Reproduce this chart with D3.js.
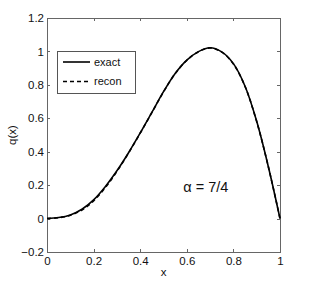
<!DOCTYPE html>
<html>
<head>
<meta charset="utf-8">
<script src="https://cdn.jsdelivr.net/npm/d3@7"></script>
<style>
  body { margin: 0; background: #fff; }
  svg { display: block; font-family: "Liberation Sans", Arial, sans-serif; }
</style>
</head>
<body>
<svg id="chart" width="314" height="286"></svg>
<script>
// values
const xs    = [0, 0.05, 0.1, 0.15, 0.2, 0.25, 0.3, 0.35, 0.4, 0.45, 0.5, 0.55, 0.6, 0.65, 0.7, 0.75, 0.8, 0.85, 0.9, 0.95, 1.0];
const exact = [0, 0.006, 0.022, 0.056, 0.112, 0.191, 0.286, 0.394, 0.512, 0.635, 0.759, 0.868, 0.948, 0.999, 1.022, 0.997, 0.927, 0.792, 0.582, 0.31, 0];
const recon = [0, 0.005, 0.02, 0.051, 0.106, 0.185, 0.282, 0.392, 0.511, 0.634, 0.758, 0.867, 0.947, 0.998, 1.021, 0.996, 0.925, 0.79, 0.58, 0.31, 0];
const xTicks = [0, 0.2, 0.4, 0.6, 0.8, 1];
const yTicks = [-0.2, 0, 0.2, 0.4, 0.6, 0.8, 1, 1.2];
const legendLabels = ["exact", "recon"];

const margin = { left: 47, top: 18, right: 34, bottom: 34 };
const width = 314 - margin.left - margin.right;
const height = 286 - margin.top - margin.bottom;

const svg = d3.select("#chart");
const g = svg.append("g").attr("transform", `translate(${margin.left},${margin.top})`);

const x = d3.scaleLinear().domain([0, 1]).range([0, width]);
const y = d3.scaleLinear().domain([-0.2, 1.2]).range([height, 0]);

const fmt = d => d === 0 ? "0" : d3.format("~g")(d);

// axes with inward ticks
function styleAxis(sel) {
  sel.selectAll("path").remove();
  sel.selectAll("line").attr("stroke", "#666").attr("shape-rendering", "crispEdges");
  sel.selectAll("text").attr("fill", "#111").style("font-size", "11.5px");
}

g.append("g").attr("transform", `translate(0,${height})`)
  .call(d3.axisBottom(x).tickValues(xTicks).tickFormat(fmt).tickSizeInner(-3).tickSizeOuter(0).tickPadding(5))
  .call(styleAxis);
g.append("g")
  .call(d3.axisTop(x).tickValues(xTicks).tickFormat("").tickSizeInner(-3).tickSizeOuter(0))
  .call(styleAxis);
g.append("g")
  .call(d3.axisLeft(y).tickValues(yTicks).tickFormat(fmt).tickSizeInner(-3).tickSizeOuter(0).tickPadding(3))
  .call(styleAxis);
g.append("g").attr("transform", `translate(${width},0)`)
  .call(d3.axisRight(y).tickValues(yTicks).tickFormat("").tickSizeInner(-3).tickSizeOuter(0))
  .call(styleAxis);

// box
g.append("rect")
  .attr("x", 0.5).attr("y", 0.5)
  .attr("width", width).attr("height", height)
  .attr("fill", "none").attr("stroke", "#666")
  .attr("shape-rendering", "crispEdges");

const line = d3.line().curve(d3.curveCatmullRom);

g.append("path")
  .attr("d", line(xs.map((v, i) => [x(v), y(exact[i])])))
  .attr("fill", "none").attr("stroke", "#000").attr("stroke-width", 1.6);

g.append("path")
  .attr("d", line(xs.map((v, i) => [x(v), y(recon[i])])))
  .attr("fill", "none").attr("stroke", "#000").attr("stroke-width", 1.6)
  .attr("stroke-dasharray", "4,3");

// axis labels
svg.append("text")
  .attr("x", margin.left + x(0.5)).attr("y", 276)
  .attr("text-anchor", "middle").style("font-size", "11.5px").attr("fill", "#111")
  .text("x");
svg.append("text")
  .attr("transform", `translate(16,${margin.top + y(0.5)}) rotate(-90)`)
  .attr("text-anchor", "middle").style("font-size", "11.5px").attr("fill", "#111")
  .text("q(x)");

// annotation
g.append("text")
  .attr("x", x(0.585)).attr("y", y(0.16))
  .style("font-size", "14.5px").attr("fill", "#111")
  .text("α = 7/4");

// legend
const leg = svg.append("g").attr("transform", "translate(57,51)");
leg.append("rect")
  .attr("x", 0.5).attr("y", 0.5).attr("width", 78).attr("height", 42)
  .attr("fill", "#fff").attr("stroke", "#555").attr("shape-rendering", "crispEdges");
legendLabels.forEach((lab, i) => {
  const ly = 11 + i * 19.5;
  leg.append("line")
    .attr("x1", 6).attr("x2", 33).attr("y1", ly).attr("y2", ly)
    .attr("stroke", "#000").attr("stroke-width", 1.6)
    .attr("stroke-dasharray", i === 1 ? "4,3" : null);
  leg.append("text")
    .attr("x", 37).attr("y", ly).attr("dy", "0.35em")
    .style("font-size", "11px").attr("fill", "#111")
    .text(lab);
});
</script>
</body>
</html>
